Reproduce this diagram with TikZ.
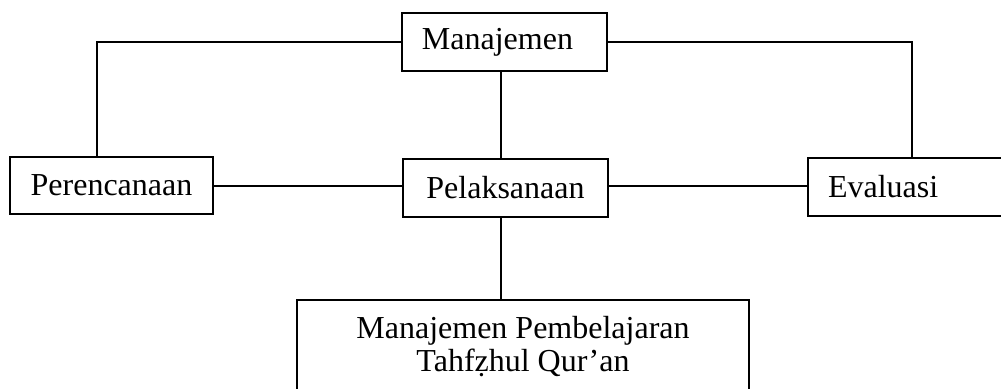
\documentclass[tikz,border=0pt]{standalone}
\usepackage{fontspec}
\setmainfont{Liberation Serif}
\begin{document}
\begin{tikzpicture}[x=0.75pt,y=-0.75pt,
  box/.style={draw,line width=1.2pt,inner sep=0pt,align=center,font=\fontsize{24}{24.75}\selectfont},
  conn/.style={line width=1.2pt}]
\clip (0,0) rectangle (1001,389);
\node[box,minimum width=153.75pt,minimum height=43.5pt] (m) at (504.5,42) {Manajemen\hspace*{10.5pt}};
\node[box,minimum width=152.25pt,minimum height=42.75pt] (p) at (111.5,185.5) {Perencanaan};
\node[box,minimum width=153.75pt,minimum height=43.5pt] (pl) at (505.5,188) {Pelaksanaan};
\node[box,inner xsep=15pt,text width=121.5pt,align=left,minimum height=43.5pt] (e) at (909,187) {Evaluasi};
\node[box,minimum width=339pt,minimum height=69.75pt] (b) at (523,346.5) {Manajemen Pembelajaran\\Tahfẓhul Qur’an};
\coordinate (l) at (97,0);
\coordinate (r) at (912,0);
\coordinate (v) at (501,0);
\coordinate (h) at (0,186);
\draw[conn] (m.west) -| (p.north -| l);
\draw[conn] (m.east) -| (e.north -| r);
\draw[conn] (m.south -| v) -- (pl.north -| v);
\draw[conn] (pl.south -| v) -- (b.north -| v);
\draw[conn] (p.east |- h) -- (pl.west |- h);
\draw[conn] (pl.east |- h) -- (e.west |- h);
\end{tikzpicture}
\end{document}
